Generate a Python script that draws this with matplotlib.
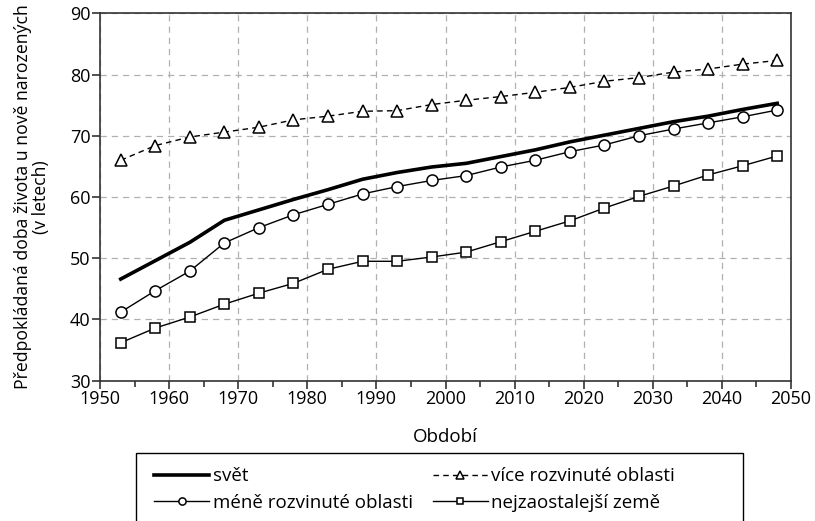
import matplotlib
matplotlib.use("Agg")
import matplotlib.pyplot as plt
from matplotlib.ticker import MultipleLocator
from matplotlib.patches import Rectangle

plt.rcParams['font.family'] = ['Open Sans', 'DejaVu Sans']

years = [1953, 1958, 1963, 1968, 1973, 1978, 1983, 1988, 1993, 1998,
         2003, 2008, 2013, 2018, 2023, 2028, 2033, 2038, 2043, 2048]
world = [46.6, 49.6, 52.6, 56.2, 57.9, 59.6, 61.2, 62.9, 64.0, 64.9,
         65.5, 66.6, 67.7, 69.0, 70.1, 71.2, 72.3, 73.2, 74.3, 75.3]
more_dev = [66.0, 68.4, 69.8, 70.6, 71.4, 72.6, 73.2, 74.0, 74.1, 75.1,
            75.8, 76.4, 77.1, 77.9, 78.9, 79.5, 80.4, 80.9, 81.7, 82.3]
less_dev = [41.2, 44.7, 47.9, 52.5, 55.0, 57.1, 58.8, 60.5, 61.7, 62.7,
            63.5, 64.9, 66.0, 67.4, 68.5, 70.0, 71.1, 72.1, 73.1, 74.2]
least_dev = [36.2, 38.6, 40.4, 42.5, 44.3, 45.9, 48.2, 49.5, 49.5, 50.2,
             51.0, 52.7, 54.4, 56.1, 58.2, 60.1, 61.8, 63.6, 65.1, 66.7]

labels = ['svět', 'méně rozvinuté oblasti', 'více rozvinuté oblasti', 'nejzaostalejší země']

W, H = 815, 521
fig = plt.figure(figsize=(W/100, H/100), dpi=100)
ax = fig.add_axes([100/W, 1-380.7/H, (791-100)/W, (380.7-13.3)/H])

ax.plot(years, world, color='black', lw=2.6, label=labels[0])
ax.plot(years, less_dev, color='black', lw=1.0, marker='o', ms=8, mfc='white', mec='black', mew=1.1, label=labels[1])
ax.plot(years, more_dev, color='black', lw=1.0, ls=(0, (4, 3)), marker='^', ms=9, mfc='white', mec='black', mew=1.1, label=labels[2])
ax.plot(years, least_dev, color='black', lw=1.0, marker='s', ms=7, mfc='white', mec='black', mew=1.1, label=labels[3])

ax.set_xlim(1950, 2050)
ax.set_ylim(30, 90)
ax.xaxis.set_major_locator(MultipleLocator(10))
ax.xaxis.set_minor_locator(MultipleLocator(5))
ax.yaxis.set_major_locator(MultipleLocator(10))
ax.grid(True, which='major', color='#b0b0b0', ls=(0, (5, 4)), lw=0.9)
ax.set_axisbelow(True)
for s in ax.spines.values():
    s.set_color('#333333')
    s.set_linewidth(1.2)
ax.tick_params(axis='both', which='major', length=6, width=1.2, color='#333333', labelsize=13, pad=1)
ax.tick_params(axis='x', which='minor', length=4, width=1.2, color='#333333')

ax.set_xlabel('Období', fontsize=13.5, labelpad=14)
ax.set_ylabel('Předpokládaná doba života u nově narozených\n(v letech)', fontsize=12.7, linespacing=1.0, labelpad=14)

fs = 13.5
h, l = ax.get_legend_handles_labels()
leg = fig.legend(h, l, ncol=2, loc='upper left', bbox_to_anchor=(146/W, 1-459/H),
                 frameon=False, fontsize=fs,
                 handlelength=2.9, markerscale=0.65, borderpad=0.45, labelspacing=0.45,
                 columnspacing=1.1, handletextpad=0.2, borderaxespad=0)
fig.add_artist(Rectangle((136/W, -0.05), (743-136)/W, 0.05 + 1-453/H, transform=fig.transFigure,
                         fill=False, edgecolor='black', lw=1.0))

fig.savefig('out.png', dpi=100)
